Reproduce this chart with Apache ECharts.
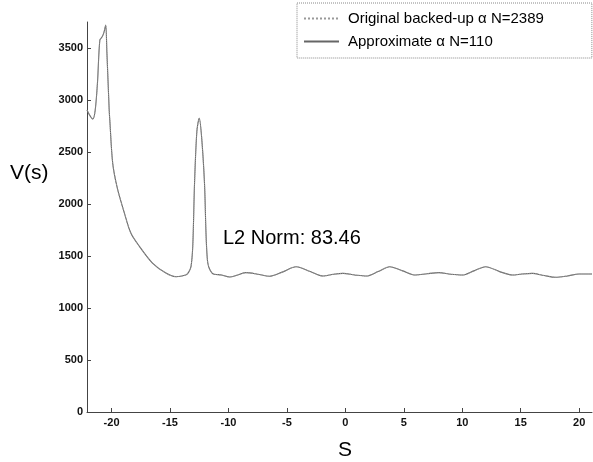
<!DOCTYPE html>
<html>
<head>
<meta charset="utf-8">
<script src="https://cdn.jsdelivr.net/npm/echarts@6/dist/echarts.min.js"></script>
<style>html,body{margin:0;padding:0;background:#fff}#c{width:593px;height:462px}</style>
</head>
<body>
<div id="c"></div>
<script>
// S positions
var sVals = [-22.1,-21.85,-21.6,-21.4,-21.2,-21.0,-20.8,-20.65,-20.5,-20.4,-20.2,-20.15,-19.9,-19.5,-18.9,-18.35,-17.6,-16.5,-15.35,-14.5,-13.65,-13.4,-13.2,-13.05,-12.9,-12.7,-12.5,-12.3,-12.05,-11.8,-11.4,-10.6,-9.9,-9.2,-8.5,-7.5,-6.5,-5.4,-4.2,-3.0,-1.9,-1.0,-0.2,0.8,1.8,2.8,3.8,4.9,6.0,7.0,8.0,9.0,10.0,11.0,12.0,13.2,14.3,15.1,16.0,17.0,18.0,19.0,20.0,21.1];
// Original backed-up alpha, N=2389
var originalV = [2904,2850,2817,2900,3173,3577,3608,3650,3721,3464,2900,2808,2391,2150,1913,1721,1590,1432,1336,1301,1318,1345,1400,1600,2202,2700,2824,2650,2202,1461,1336,1317,1298,1318,1340,1325,1305,1345,1397,1350,1307,1325,1333,1318,1307,1350,1397,1357,1317,1330,1340,1325,1317,1357,1397,1350,1317,1327,1333,1312,1295,1308,1327,1327];
// Approximate alpha, N=110
var approxV = [2904,2850,2817,2900,3173,3577,3608,3650,3721,3464,2900,2808,2391,2150,1913,1721,1590,1432,1336,1301,1318,1345,1400,1600,2202,2700,2824,2650,2202,1461,1336,1317,1298,1318,1340,1325,1305,1345,1397,1350,1307,1325,1333,1318,1307,1350,1397,1357,1317,1330,1340,1325,1317,1357,1397,1350,1317,1327,1333,1312,1295,1308,1327,1327];
var xTicks = [-20,-15,-10,-5,0,5,10,15,20];
var yTicks = [0,500,1000,1500,2000,2500,3000,3500];
var seriesNames = ['Original backed-up \u03b1 N=2389', 'Approximate \u03b1 N=110'];
var normText = 'L2 Norm: 83.46';

function pairs(xs, ys){ var r=[]; for(var i=0;i<xs.length;i++) r.push([xs[i], ys[i]]); return r; }

var FONT = 'Liberation Sans, Arial, Helvetica, sans-serif';
var chart = echarts.init(document.getElementById('c'), null, {renderer:'canvas'});
chart.setOption({
  animation: false,
  backgroundColor: '#fff',
  grid: {left: 87, right: 1, top: 22, bottom: 50, containLabel: false},
  legend: {
    orient: 'vertical', left: 297, top: 3,
    padding: [8, 48, 9, 6],
    itemWidth: 35, itemHeight: 14, itemGap: 8,
    borderColor: '#888', borderWidth: 1, borderType: 'dotted',
    itemStyle: {opacity: 0},
    textStyle: {fontFamily: FONT, fontSize: 15, color: '#000', padding: [0,0,0,4]},
    data: seriesNames
  },
  xAxis: {
    type: 'value', min: -22.1, max: 21.1, position: 'bottom',
    axisLine: {show: true, onZero: false, lineStyle: {color: '#444', width: 1}},
    axisTick: {show: true, inside: true, length: 4, customValues: xTicks, lineStyle: {color: '#444'}},
    axisLabel: {customValues: xTicks, margin: 5, fontFamily: FONT, fontSize: 11, fontWeight: 'bold', color: '#111', formatter: function(v){return String(v);}},
    splitLine: {show: false}
  },
  yAxis: {
    type: 'value', min: 0, max: 3750,
    axisLine: {show: true, onZero: false, lineStyle: {color: '#444', width: 1}},
    axisTick: {show: true, inside: true, length: 4, customValues: yTicks, lineStyle: {color: '#444'}},
    axisLabel: {customValues: yTicks, margin: 4, fontFamily: FONT, fontSize: 11, fontWeight: 'bold', color: '#111', formatter: function(v){return String(v);}},
    splitLine: {show: false}
  },
  series: [
    {name: seriesNames[0], type: 'line', data: pairs(sVals, originalV), symbol: 'none', smooth: 0.3,
     lineStyle: {color: '#999', width: 1, type: 'dotted'}, itemStyle: {color: '#999'}, z: 3},
    {name: seriesNames[1], type: 'line', data: pairs(sVals, approxV), symbol: 'none', smooth: 0.3,
     lineStyle: {color: '#666', width: 1.1}, itemStyle: {color: '#666'}, z: 2}
  ],
  graphic: [
    {type: 'text', left: 10, top: 163, style: {text: 'V(s)', font: '21px ' + FONT, fill: '#000'}},
    {type: 'text', left: 338, top: 440, style: {text: 'S', font: '21px ' + FONT, fill: '#000'}},
    {type: 'text', left: 223, top: 228, style: {text: normText, font: '20px ' + FONT, fill: '#000'}}
  ]
});
</script>
</body>
</html>
